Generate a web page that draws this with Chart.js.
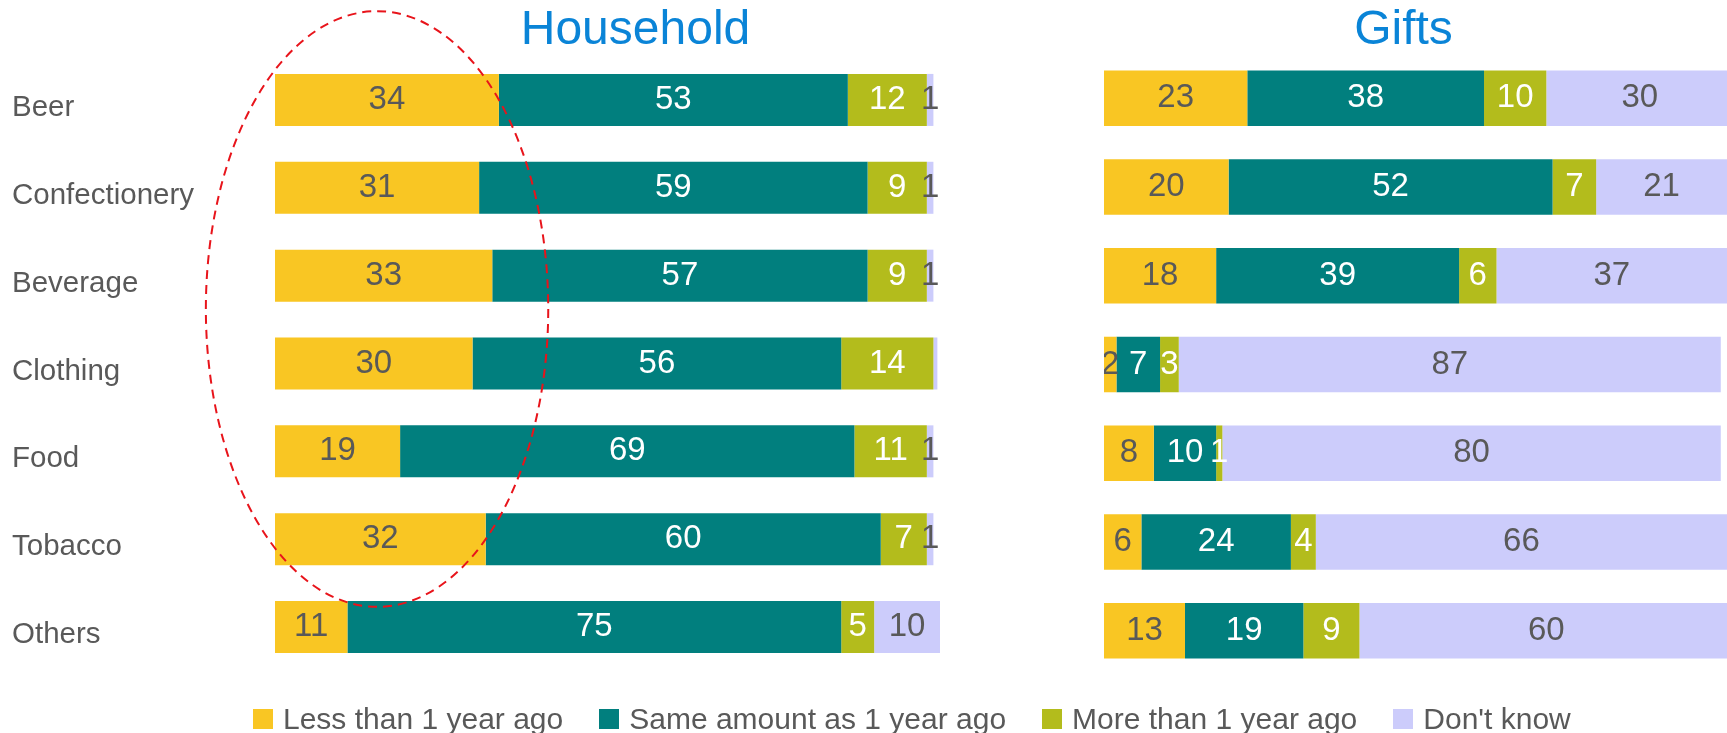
<!DOCTYPE html>
<html>
<head>
<meta charset="utf-8">
<title>Household vs Gifts</title>
<script src="https://cdn.jsdelivr.net/npm/chart.js@4.4.1/dist/chart.umd.min.js"></script>
<style>
  html, body { margin: 0; padding: 0; background: #fff; overflow: hidden; }
  body { width: 1727px; height: 733px; position: relative; font-family: "Liberation Sans", Arial, sans-serif; }
  .panel { position: absolute; top: 0; }
  #household-wrap { left: 0; }
  #gifts-wrap { left: 1104px; }
  #legend { position: absolute; left: 253px; top: 704px; height: 30px; display: flex; align-items: center; }
  .item { display: flex; align-items: center; margin-right: 36px; }
  .swatch { width: 20px; height: 20px; margin-right: 10px; }
  .item span.txt { font-size: 30px; color: #595959; line-height: 30px; white-space: nowrap; }
</style>
</head>
<body>
<div class="panel" id="household-wrap"><canvas id="household" width="940" height="733"></canvas></div>
<div class="panel" id="gifts-wrap"><canvas id="gifts" width="623" height="733"></canvas></div>
<div id="legend"></div>
<script>
const categories = ['Beer', 'Confectionery', 'Beverage', 'Clothing', 'Food', 'Tobacco', 'Others'];
const seriesNames = ['Less than 1 year ago', 'Same amount as 1 year ago', 'More than 1 year ago', "Don't know"];
const seriesColors = ['#F9C623', '#017F7E', '#B3BC1C', '#CCCCFB'];
const labelColors = ['#595959', '#FFFFFF', '#FFFFFF', '#595959'];

// Household
const householdLess = [34, 31, 33, 30, 19, 32, 11];
const householdSame = [53, 59, 57, 56, 69, 60, 75];
const householdMore = [12, 9, 9, 14, 11, 7, 5];
const householdDontKnow = [1, 1, 1, 0.6, 1, 1, 10]; // clothing is only a sliver, no label

// Gifts
const giftsLess = [23, 20, 18, 2, 8, 6, 13];
const giftsSame = [38, 52, 39, 7, 10, 24, 19];
const giftsMore = [10, 7, 6, 3, 1, 4, 9];
const giftsDontKnow = [30, 21, 37, 87, 80, 66, 60];

const FONT = '"Liberation Sans", Arial, sans-serif';

// value inside each segment, skipped for the tiny ones
const valueLabels = {
    id: 'valueLabels',
    afterDatasetsDraw(chart) {
        const ctx = chart.ctx;
        ctx.save();
        ctx.font = '33px ' + FONT;
        ctx.textAlign = 'center';
        ctx.textBaseline = 'middle';
        chart.data.datasets.forEach((ds, i) => {
            const meta = chart.getDatasetMeta(i);
            ctx.fillStyle = labelColors[i];
            meta.data.forEach((bar, j) => {
                const v = ds.data[j];
                if (v < 1) return;
                const p = bar.getProps(['x', 'base', 'y'], true);
                ctx.fillText(String(v), (p.x + p.base) / 2, p.y);
            });
        });
        ctx.restore();
    }
};

// blue heading over each panel
const panelTitle = {
    id: 'panelTitle',
    afterDraw(chart, args, opts) {
        const { ctx, chartArea } = chart;
        ctx.save();
        ctx.font = '48px ' + FONT;
        ctx.fillStyle = '#0A84D7';
        ctx.textAlign = 'center';
        ctx.textBaseline = 'middle';
        ctx.fillText(opts.text, (chartArea.left + chartArea.right) / 2 + opts.shift, opts.y);
        ctx.restore();
    }
};

// red dashed ring round the first column, placed in scale units
const highlightRing = {
    id: 'highlightRing',
    afterDraw(chart, args, opts) {
        if (!opts.show) return;
        const { x, y } = chart.scales;
        const left = x.getPixelForValue(opts.xFrom);
        const right = x.getPixelForValue(opts.xTo);
        const top = y.getPixelForValue(opts.yFrom);
        const bottom = y.getPixelForValue(opts.yTo);
        const ctx = chart.ctx;
        ctx.save();
        ctx.strokeStyle = '#E8141B';
        ctx.lineWidth = 2;
        ctx.setLineDash([9, 6]);
        ctx.beginPath();
        ctx.ellipse((left + right) / 2, (top + bottom) / 2, (right - left) / 2, (bottom - top) / 2, 0, 0, Math.PI * 2);
        ctx.stroke();
        ctx.restore();
    }
};

function buildPanel(canvasId, series, cfg) {
    const datasets = series.map((data, i) => ({
        label: seriesNames[i],
        data: data,
        backgroundColor: seriesColors[i],
        borderWidth: 0,
        categoryPercentage: 1,
        barPercentage: cfg.barPercentage
    }));

    return new Chart(document.getElementById(canvasId), {
        type: 'bar',
        data: { labels: categories, datasets },
        options: {
            indexAxis: 'y',
            responsive: false,
            animation: false,
            layout: { padding: cfg.padding },
            scales: {
                x: { stacked: true, min: 0, max: cfg.max, display: false },
                y: {
                    stacked: true,
                    display: cfg.showCategories,
                    grid: { display: false },
                    border: { display: false },
                    ticks: {
                        crossAlign: 'far',
                        labelOffset: 8,
                        color: '#595959',
                        font: { family: FONT, size: 29.5 }
                    },
                    afterFit: scale => { scale.width = cfg.showCategories ? 263 : 0; }
                }
            },
            plugins: {
                legend: { display: false },
                tooltip: { enabled: false },
                panelTitle: { text: cfg.title, shift: cfg.titleShift, y: 31 },
                highlightRing: cfg.ring || { show: false }
            }
        },
        plugins: [valueLabels, panelTitle, highlightRing]
    });
}

buildPanel('household', [householdLess, householdSame, householdMore, householdDontKnow], {
    title: 'Household',
    titleShift: 28,
    max: 101,
    barPercentage: 0.592,
    showCategories: true,
    padding: { left: 12, right: 0, top: 56, bottom: 62 },
    ring: { show: true, xFrom: -10.5, xTo: 41.5, yFrom: -1.01, yTo: 5.77 }
});

buildPanel('gifts', [giftsLess, giftsSame, giftsMore, giftsDontKnow], {
    title: 'Gifts',
    titleShift: -12,
    max: 100,
    barPercentage: 0.626,
    showCategories: false,
    padding: { left: 0, right: 0, top: 54, bottom: 58 }
});

// shared legend under both panels
const legendEl = document.getElementById('legend');
seriesNames.forEach((name, i) => {
    const item = document.createElement('div');
    item.className = 'item';
    const sw = document.createElement('div');
    sw.className = 'swatch';
    sw.style.background = seriesColors[i];
    const txt = document.createElement('span');
    txt.className = 'txt';
    txt.textContent = name;
    item.appendChild(sw);
    item.appendChild(txt);
    legendEl.appendChild(item);
});
</script>
</body>
</html>
